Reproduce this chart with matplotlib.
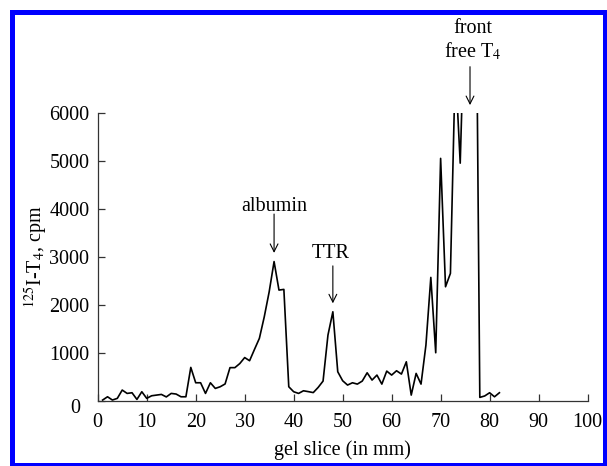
import matplotlib
matplotlib.use('Agg')
import matplotlib.pyplot as plt
from matplotlib.patches import Rectangle
from matplotlib.transforms import ScaledTranslation

plt.rcParams['font.family'] = ['Liberation Serif', 'DejaVu Serif']
plt.rcParams['mathtext.fontset'] = 'stix'

# gel slice position (mm) and 125I-T4 counts (cpm); values above 6000 run off the scale
slice_mm = list(range(1, 83))
cpm = [15, 83, 15, 50, 223, 153, 167, 28, 188, 50,
       104, 118, 132, 80, 153, 140, 83, 83, 695, 375,
       375, 153, 375, 257, 292, 350, 690, 690, 775, 900,
       834, 1070, 1300, 1750, 2270, 2900, 2306, 2320, 292, 188,
       153, 208, 190, 170, 278, 410, 1368, 1854, 604, 417,
       327, 375, 347, 410, 583, 431, 535, 347, 618, 535,
       625, 556, 812, 118, 570, 347, 1160, 2570, 1000, 5050,
       2375, 2654, 7000, 4950, 8500, 10000, 12000, 70, 100, 167,
       83, 167]

xticks = list(range(0, 101, 10))
yticks = list(range(0, 6001, 1000))

# peak labels: (text, text x, text baseline y, arrow x, arrow top, arrow tip)
peaks = [('albumin', 36, 3950, 36, 3890, 3080),
         ('TTR', 47.6, 2970, 48, 2810, 2030)]

fig = plt.figure(figsize=(6.07, 4.66), dpi=100)
ax = fig.add_axes([0.161, 0.140, 0.807, 0.618])

ax.plot(slice_mm, cpm, color='black', lw=1.2)

ax.set_xlim(0, 100)
ax.set_ylim(0, 6000)
ax.set_xticks(xticks)
ax.set_yticks(yticks)
ax.spines['top'].set_visible(False)
ax.spines['right'].set_visible(False)
for s in ['left', 'bottom']:
    ax.spines[s].set_color('#333333')
    ax.spines[s].set_linewidth(0.9)
ax.tick_params(axis='both', direction='in', length=5, width=0.9, color='#333333',
               labelsize=14.5)
ax.tick_params(axis='x', pad=9)
ax.tick_params(axis='y', pad=6)

# the "0" on the y axis sits lower and further left than the others
ylab0 = ax.yaxis.get_major_ticks()[0].label1
ylab0.set_transform(ylab0.get_transform() + ScaledTranslation(-9 / 100, -5 / 100, fig.dpi_scale_trans))

ax.set_xlabel('gel slice (in mm)', fontsize=14.5, labelpad=6)
ax.set_ylabel(r'$^{125}$I-T$_4$, cpm', fontsize=14.5)
ax.yaxis.set_label_coords(-0.097, 0.5)

for name, tx, ty, axx, a_top, a_tip in peaks:
    ax.text(tx, ty, name, ha='center', va='baseline', fontsize=14.5)
    ax.annotate('', xy=(axx, a_tip), xytext=(axx, a_top),
                arrowprops=dict(arrowstyle='->', lw=0.8, mutation_scale=14,
                                shrinkA=0, shrinkB=0))

ax.text(76.6, 7660, 'front', ha='center', va='baseline', fontsize=14.5)
ax.text(76.6, 7160, r'free T$_4$', ha='center', va='baseline', fontsize=14.5)
ax.annotate('', xy=(76, 6160), xytext=(76, 6960), annotation_clip=False,
            arrowprops=dict(arrowstyle='->', lw=0.8, mutation_scale=14,
                            shrinkA=0, shrinkB=0))

# blue frame around the figure
fig.patches.append(Rectangle((12 / 607, 1.5 / 466), 593 / 607, 453 / 466,
                             transform=fig.transFigure, fill=False,
                             edgecolor='#0000ff', lw=3.6))

fig.savefig('out.png', dpi=100)
